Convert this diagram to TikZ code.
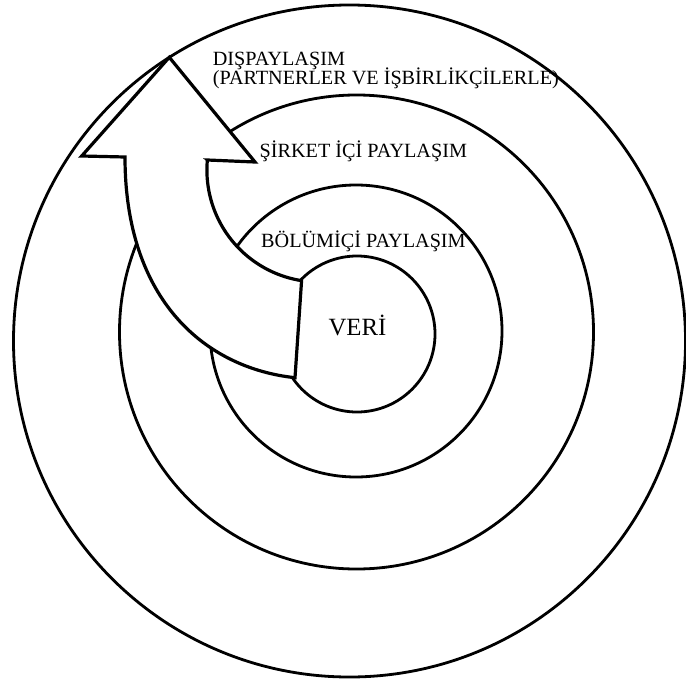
\documentclass[tikz,border=0pt]{standalone}
\usepackage{fontspec}
\setmainfont{Liberation Serif}
\begin{document}
\begin{tikzpicture}[x=1bp,y=-1bp,
  ring/.style={draw=black, line width=2.8bp},
  bigarrow/.style={draw=black, fill=white, line width=3.2bp, line join=miter},
  lbl/.style={anchor=base west, inner sep=0pt, font=\fontsize{20.2bp}{20bp}\selectfont},
  core/.style={anchor=base west, inner sep=0pt, font=\fontsize{24.8bp}{26bp}\selectfont}]
\useasboundingbox (0,0) rectangle (686,679);
% rings
\draw[ring] (349.5,341) circle[radius=336bp];
\draw[ring] (356.5,332) circle[radius=237bp];
\draw[ring] (356,331) circle[radius=146bp];
\draw[ring] (357,334) circle[radius=78bp];
% curved arrow
\coordinate (tip) at (169.3,57.3);
\coordinate (rb) at (255,162);
\coordinate (ri) at (207.3,160);
\coordinate (tt) at (301.6,280.6);
\coordinate (tb) at (295,377.7);
\coordinate (li) at (125,157);
\coordinate (lb) at (81.7,156);
\draw[bigarrow] (tip) -- (rb) -- (ri)
  -- plot[domain=185.1:98.9, samples=40] ({318.9+112*cos(\x)},{170+112*sin(\x)})
  -- (tb) .. controls (205,368) and (125,300) .. (li) -- (lb) -- cycle;
% labels
\node[lbl] (ext1) at (212.7,66) {DIŞPAYLAŞIM};
\node[lbl] (ext2) at (212.7,84.5) {(PARTNERLER VE İŞBİRLİKÇİLERLE)};
\node[lbl] (int) at (259.5,157.3) {ŞİRKET İÇİ PAYLAŞIM};
\node[lbl] (dep) at (261,247.3) {BÖLÜMİÇİ PAYLAŞIM};
\node[core] (veri) at (328.3,335) {VERİ};
\end{tikzpicture}
\end{document}
